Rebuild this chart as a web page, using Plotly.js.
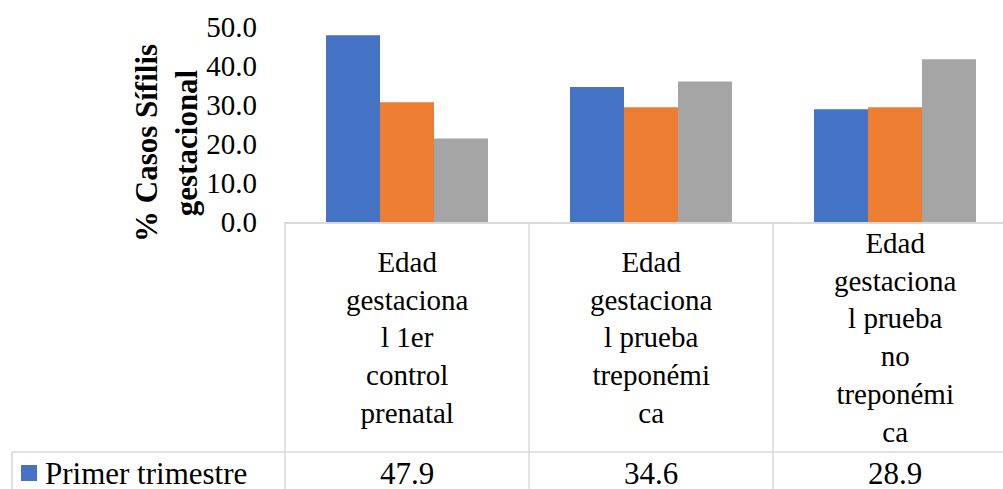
<!DOCTYPE html>
<html>
<head>
<meta charset="utf-8">
<script src="https://cdn.plot.ly/plotly-3.0.1.min.js"></script>
<style>
  html, body { margin: 0; padding: 0; overflow: hidden; background: #fff; }
  #chart { width: 1003px; height: 489px; }
</style>
</head>
<body>
<div id="chart"></div>
<script>
// ---- data ----
const categories = [
  "Edad gestacional 1er control prenatal",
  "Edad gestacional prueba treponémica",
  "Edad gestacional prueba no treponémica"
];
const categoryLabels = [
  "Edad<br>gestaciona<br>l 1er<br>control<br>prenatal",
  "Edad<br>gestaciona<br>l prueba<br>treponémi<br>ca",
  "Edad<br>gestaciona<br>l prueba<br>no<br>treponémi<br>ca"
];
const seriesNames = ["Primer trimestre", "Segundo trimestre", "Tercer trimestre"];
const primerTrimestre = [47.9, 34.6, 28.9];
const segundoTrimestre = [30.7, 29.4, 29.4];
const tercerTrimestre = [21.4, 36.0, 41.7];
const seriesColors = ["#4472C4", "#ED7D31", "#A5A5A5"];
const yTickValues = [0, 10, 20, 30, 40, 50];
const yTickLabels = ["0.0", "10.0", "20.0", "30.0", "40.0", "50.0"];
const yTitle = "% Casos Sífilis<br>gestacional";

// ---- layout geometry (pixels) ----
const W = 1003, H = 489;
const mL = 285, mR = 0, mT = 27, mB = 267;
const plotW = W - mL - mR, plotH = H - mT - mB;
const px = x => (x - mL) / plotW;          // pixel x -> paper x
const py = y => (H - mB - y) / plotH;      // pixel y -> paper y

const idx = categories.map((_, i) => i);
const allSeries = [primerTrimestre, segundoTrimestre, tercerTrimestre];

const traces = allSeries.map((vals, s) => ({
  type: "bar", name: seriesNames[s], x: idx, y: vals,
  marker: { color: seriesColors[s] }, hoverinfo: "skip", showlegend: false
}));

const gridColor = "#D9D9D9";
const serif = "'Liberation Serif', 'Times New Roman', serif";

const shapes = [];
shapes.push({ type: "line", xref: "paper", yref: "paper", x0: 0, x1: 0, y0: 0, y1: -1.6, line: { color: gridColor, width: 1.5 } });
[0.5, 1.5].forEach(b => shapes.push({ type: "line", xref: "x", yref: "paper", x0: b, x1: b, y0: 0, y1: -1.6, line: { color: gridColor, width: 1.5 } }));
shapes.push({ type: "line", xref: "paper", yref: "paper", x0: px(12), x1: 1.05, y0: py(452), y1: py(452), line: { color: gridColor, width: 1.5 } });
shapes.push({ type: "line", xref: "paper", yref: "paper", x0: px(12), x1: px(12), y0: py(452), y1: -1.6, line: { color: gridColor, width: 1.5 } });
shapes.push({ type: "rect", xref: "paper", yref: "paper", x0: px(21), x1: px(37), y0: py(465), y1: py(481), fillcolor: seriesColors[0], line: { width: 0 } });

const annotations = [];
categoryLabels.forEach((t, i) => annotations.push({
  xref: "x", yref: "paper", x: i, y: py(337), text: t, showarrow: false,
  xanchor: "center", yanchor: "middle", align: "center",
  font: { family: serif, size: 29, color: "#000" }
}));
annotations.push({
  xref: "paper", yref: "paper", x: px(43), y: py(474), text: seriesNames[0], showarrow: false,
  xanchor: "left", yanchor: "middle", font: { family: serif, size: 31, color: "#000" }
});
primerTrimestre.forEach((v, i) => annotations.push({
  xref: "x", yref: "paper", x: i, y: py(474), text: v.toFixed(1), showarrow: false,
  xanchor: "center", yanchor: "middle", font: { family: serif, size: 31, color: "#000" }
}));
annotations.push({
  xref: "paper", yref: "paper", x: px(166), y: py(143), text: yTitle, showarrow: false,
  textangle: -90, xanchor: "center", yanchor: "middle", align: "center",
  font: { family: serif, size: 31, color: "#000", weight: "bold" }
});

const layout = {
  width: W, height: H,
  margin: { l: mL, r: mR, t: mT, b: mB, pad: 0 },
  paper_bgcolor: "#fff", plot_bgcolor: "#fff",
  barmode: "group", bargap: 0.336, bargroupgap: 0,
  xaxis: {
    range: [-0.5, 2.5 - 14 / 244],
    showticklabels: false, showgrid: false, zeroline: false,
    showline: true, linecolor: gridColor, linewidth: 2, ticks: "", fixedrange: true
  },
  yaxis: {
    range: [0, 50], tickvals: yTickValues, ticktext: yTickLabels,
    showgrid: false, zeroline: false, showline: false, ticks: "",
    ticklabelstandoff: 27,
    tickfont: { family: serif, size: 29, color: "#000" }, fixedrange: true
  },
  shapes, annotations,
  font: { family: serif }
};

Plotly.newPlot("chart", traces, layout, { staticPlot: true, displayModeBar: false });
</script>
</body>
</html>
